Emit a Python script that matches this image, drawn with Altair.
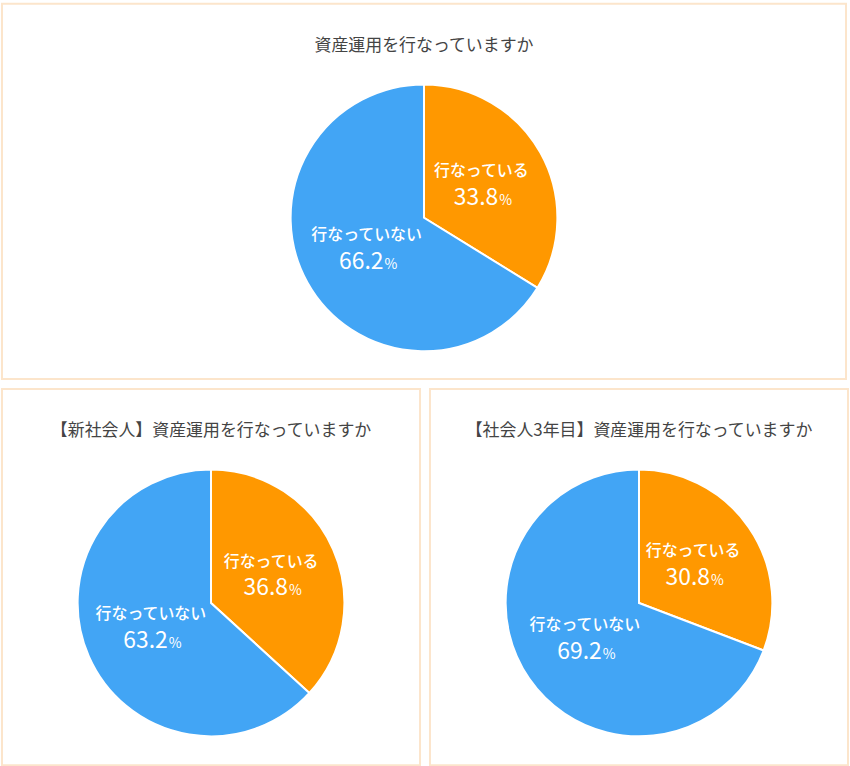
import altair as alt
import pandas as pd

categories = ["行なっている", "行なっていない"]
titles = [
    "資産運用を行なっていますか",
    "【新社会人】資産運用を行なっていますか",
    "【社会人3年目】資産運用を行なっていますか",
]
values_all = [33.8, 66.2]
values_new = [36.8, 63.2]
values_third = [30.8, 69.2]

ORANGE = "#FF9800"
BLUE = "#42A5F5"
BORDER = "#FCE5CB"
FONT = "Noto Sans CJK JP"


def panel(title, values, w, h):
    df = pd.DataFrame({
        "category": categories,
        "value": values,
        "order": [0, 1],
        "num": [f"{v:.1f}" for v in values],
        "pct": ["%", "%"],
    })
    cx = alt.value(w / 2)
    cy = alt.value(215)
    base = alt.Chart(df).encode(
        theta=alt.Theta("value:Q", stack=True),
        order=alt.Order("order:Q"),
    )
    pie = base.mark_arc(outerRadius=134, stroke="white", strokeWidth=2).encode(
        x=cx, y=cy,
        color=alt.Color("category:N",
                        scale=alt.Scale(domain=categories, range=[ORANGE, BLUE]),
                        legend=None),
    )
    lab = base.mark_text(radius=66, dy=-15, fontSize=16, fontWeight=500,
                         fill="white", font=FONT).encode(
        x=cx, y=cy, text="category:N")
    num = base.mark_text(radius=66, dy=19, dx=17, fontSize=23, fontWeight="normal",
                         fill="white", font=FONT, align="right",
                         baseline="alphabetic").encode(
        x=cx, y=cy, text="num:N")
    pct = base.mark_text(radius=66, dy=19, dx=18, fontSize=14, fontWeight="normal",
                         fill="white", font=FONT, align="left",
                         baseline="alphabetic").encode(
        x=cx, y=cy, text="pct:N")
    ttl = alt.Chart(pd.DataFrame({"t": [title]})).mark_text(
        fontSize=17, fill="#444444", font=FONT).encode(
        text="t:N", x=alt.value(w / 2), y=alt.value(42))
    return alt.layer(pie, lab, num, pct, ttl).properties(width=w, height=h)


top = panel(titles[0], values_all, 848, 377)
left = panel(titles[1], values_new, 420, 378)
right = panel(titles[2], values_third, 420, 378)

chart = alt.vconcat(
    top,
    alt.hconcat(left, right, spacing=8),
    spacing=8,
).properties(
    padding={"left": 1, "top": 1, "right": 1, "bottom": 1},
    background="white",
).configure_view(stroke=BORDER, strokeWidth=2)

chart.save("out.html", embed_options={"renderer": "svg", "actions": False})
